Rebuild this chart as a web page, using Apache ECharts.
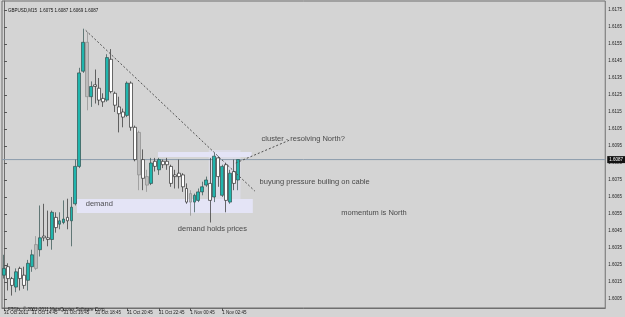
<!DOCTYPE html>
<html>
<head>
<meta charset="utf-8">
<script src="https://cdn.jsdelivr.net/npm/echarts@6/dist/echarts.min.js"></script>
<style>
html, body { margin: 0; padding: 0; background: #d4d4d4; }
#chart { width: 625px; height: 317px; }
</style>
</head>
<body>
<div id="chart"></div>
<script>
// GBPUSD M15 bars, first one 31 Oct 13:00   [open, close, low, high]
var bars = [
    [1.6019, 1.6023, 1.6017, 1.6031],
    [1.6024, 1.6017, 1.6010, 1.6026],
    [1.6017, 1.6013, 1.6007, 1.6018],
    [1.6012, 1.6021, 1.6009, 1.6023],
    [1.6023, 1.6017, 1.6010, 1.6024],
    [1.6019, 1.6013, 1.6011, 1.6024],
    [1.6016, 1.6026, 1.6010, 1.6028],
    [1.6024, 1.6031, 1.6021, 1.6034],
    [1.6037, 1.6023, 1.6022, 1.6042],
    [1.6034, 1.6041, 1.6030, 1.6060],
    [1.6042, 1.6041, 1.6039, 1.6061],
    [1.6041, 1.6040, 1.6036, 1.6057],
    [1.6040, 1.6056, 1.6034, 1.6057],
    [1.6053, 1.6047, 1.6044, 1.6056],
    [1.6049, 1.6051, 1.6046, 1.6056],
    [1.6050, 1.6052, 1.6049, 1.6063],
    [1.6053, 1.6051, 1.6046, 1.6064],
    [1.6051, 1.6059, 1.6036, 1.6065],
    [1.6061, 1.6083, 1.6060, 1.6087],
    [1.6083, 1.6138, 1.6082, 1.6141],
    [1.6139, 1.6156, 1.6138, 1.6164],
    [1.6156, 1.6124, 1.6116, 1.6162],
    [1.6124, 1.6130, 1.6118, 1.6133],
    [1.6131, 1.6130, 1.6120, 1.6140],
    [1.6129, 1.6122, 1.6119, 1.6135],
    [1.6123, 1.6121, 1.6118, 1.6126],
    [1.6122, 1.6147, 1.6121, 1.6149],
    [1.6146, 1.6127, 1.6126, 1.6152],
    [1.6126, 1.6119, 1.6115, 1.6127],
    [1.6118, 1.6114, 1.6103, 1.6124],
    [1.6115, 1.6112, 1.6106, 1.6117],
    [1.6113, 1.6132, 1.6112, 1.6133],
    [1.6132, 1.6106, 1.6104, 1.6133],
    [1.6106, 1.6087, 1.6086, 1.6107],
    [1.6103, 1.6078, 1.6069, 1.6104],
    [1.6087, 1.6076, 1.6069, 1.6093],
    [1.6077, 1.6072, 1.6068, 1.6081],
    [1.6073, 1.6085, 1.6072, 1.6088],
    [1.6086, 1.6083, 1.6080, 1.6088],
    [1.6081, 1.6087, 1.6078, 1.6088],
    [1.6086, 1.6084, 1.6082, 1.6087],
    [1.6086, 1.6084, 1.6081, 1.6088],
    [1.6083, 1.6073, 1.6071, 1.6084],
    [1.6078, 1.6077, 1.6070, 1.6081],
    [1.6079, 1.6077, 1.6070, 1.6087],
    [1.6078, 1.6071, 1.6068, 1.6079],
    [1.6070, 1.6062, 1.6061, 1.6073],
    [1.6067, 1.6062, 1.6054, 1.6069],
    [1.6062, 1.6066, 1.6056, 1.6067],
    [1.6063, 1.6068, 1.6062, 1.6070],
    [1.6068, 1.6071, 1.6066, 1.6074],
    [1.6072, 1.6075, 1.6071, 1.6077],
    [1.6073, 1.6063, 1.6050, 1.6088],
    [1.6065, 1.6089, 1.6062, 1.6091],
    [1.6088, 1.6077, 1.6071, 1.6089],
    [1.6066, 1.6083, 1.6065, 1.6084],
    [1.6084, 1.6063, 1.6056, 1.6085],
    [1.6062, 1.6079, 1.6061, 1.6081],
    [1.6080, 1.6073, 1.6069, 1.6087],
    [1.6075, 1.6087, 1.6069, 1.6087]
];
// bars that show up grey on the screenshot
var greyBars = [8, 21, 34, 36, 47];

var slotCount = 152;
var timeTickIdx = [0, 7, 15, 23, 31, 39, 47, 55];
var timeTickText = ['31 Oct 2011', '31 Oct 14:45', '31 Oct 16:45', '31 Oct 18:45',
    '31 Oct 20:45', '31 Oct 22:45', '1 Nov 00:45', '1 Nov 02:45'];
var priceTicks = [1.6005, 1.6015, 1.6025, 1.6035, 1.6045, 1.6055, 1.6065, 1.6075, 1.6085,
    1.6095, 1.6105, 1.6115, 1.6125, 1.6135, 1.6145, 1.6155, 1.6165, 1.6175];
var lastPrice = 1.6087;
var header = 'GBPUSD,M15  1.6075 1.6087 1.6069 1.6087';
var footer = 'FTGfx, \u00a9 2001-2011 MetaQuotes Software Corp.';

// objects drawn on the chart, anchored at (bar index, price)
var trendDown = [[20.6, 1.6163], [63.2, 1.60685]];
var trendCluster = [[58.4, 1.6085], [72.0, 1.60985]];
var bandBox = [[38.8, 1.60915], [62.4, 1.60885]];
var clusterBox = [[51.6, 1.60926], [59.6, 1.60597]];
var demandBox = [[18.4, 1.60638], [62.7, 1.60556]];
var noteText = ['cluster - resolving North?', 'buyung pressure builing on cable',
    'momentum is North', 'demand holds prices', 'demand'];
var notePos = [[64.9, 1.60991], [64.4, 1.60738], [85.0, 1.60556], [43.8, 1.60462], [20.6, 1.60609]];

var chart = echarts.init(document.getElementById('chart'));

var cats = [];
for (var i = 0; i < slotCount; i++) cats.push(i);

var candleData = bars.map(function (b, i) {
    if (greyBars.indexOf(i) >= 0) {
        return { value: b, itemStyle: { color: '#bcbcbc', color0: '#bcbcbc', borderColor: '#8c8c8c', borderColor0: '#8c8c8c' } };
    }
    return b;
});

var notesData = noteText.map(function (t, i) {
    return { name: t, value: notePos[i] };
});

function isTimeTick(idx) { return timeTickIdx.indexOf(idx) >= 0; }

chart.setOption({
    animation: false,
    backgroundColor: '#d4d4d4',
    title: [
        { text: header, left: 3, top: 3, textStyle: { fontSize: 4.5, color: '#111', fontWeight: 'normal', fontFamily: 'Liberation Sans' } },
        { text: footer, left: 3, top: 302, textStyle: { fontSize: 4.5, color: '#222', fontWeight: 'normal', fontFamily: 'Liberation Sans' } }
    ],
    grid: {
        left: 2, top: 1, width: 604, height: 307,
        show: true, borderColor: '#6f6f6f', borderWidth: 1, backgroundColor: 'transparent'
    },
    xAxis: [
        {
            type: 'category',
            data: cats,
            boundaryGap: true,
            axisLine: { lineStyle: { color: '#6f6f6f' } },
            axisTick: { show: true, length: 3, alignWithLabel: true, interval: function (idx) { return isTimeTick(idx); }, lineStyle: { color: '#555' } },
            axisLabel: {
                interval: function (idx) { return isTimeTick(idx); },
                formatter: function (v, idx) { var k = timeTickIdx.indexOf(idx); return k >= 0 ? timeTickText[k] : ''; },
                align: 'left',
                margin: 2,
                fontSize: 4.5,
                color: '#222',
                fontFamily: 'Liberation Sans'
            },
            splitLine: { show: false }
        },
        { type: 'value', min: -0.5, max: slotCount - 0.5, show: false }
    ],
    yAxis: {
        type: 'value',
        position: 'right',
        min: 1.59997,
        max: 1.61803,
        axisLine: { show: true, lineStyle: { color: '#6f6f6f' } },
        axisTick: { show: true, length: 3, customValues: priceTicks, lineStyle: { color: '#555' } },
        axisLabel: {
            customValues: priceTicks,
            formatter: function (v) { return v.toFixed(4); },
            margin: 3,
            fontSize: 4.5,
            color: '#222',
            fontFamily: 'Liberation Sans'
        },
        splitLine: { show: false }
    },
    series: [
        {
            type: 'line',
            xAxisIndex: 1,
            data: [],
            silent: true,
            z: 1,
            markArea: {
                silent: true,
                data: [
                    [{ coord: clusterBox[0], itemStyle: { color: '#dcdce6' } }, { coord: clusterBox[1] }],
                    [{ coord: demandBox[0], itemStyle: { color: '#e4e4f6' } }, { coord: demandBox[1] }],
                    [{ coord: bandBox[0], itemStyle: { color: '#e4e4f6' } }, { coord: bandBox[1] }]
                ]
            }
        },
        {
            // bid line across the whole window, price tag on the axis
            type: 'line',
            xAxisIndex: 1,
            data: [[-0.5, lastPrice], [slotCount - 0.5, lastPrice]],
            symbol: 'none',
            silent: true,
            z: 2,
            lineStyle: { color: '#8b9bac', width: 1 },
            endLabel: {
                show: true,
                formatter: lastPrice.toFixed(4),
                backgroundColor: '#111',
                color: '#fff',
                fontSize: 4.5,
                padding: [1, 2],
                distance: 2,
                fontFamily: 'Liberation Sans'
            }
        },
        {
            type: 'candlestick',
            data: candleData,
            barWidth: 3.4,
            z: 3,
            silent: true,
            itemStyle: {
                color: '#20b5ad',
                color0: '#ffffff',
                borderColor: '#2f4f4d',
                borderColor0: '#2e2e2e',
                borderWidth: 0.7
            }
        },
        {
            type: 'line',
            xAxisIndex: 1,
            data: trendDown,
            symbol: 'none',
            silent: true,
            z: 4,
            lineStyle: { color: '#505050', width: 1, type: [2, 2] }
        },
        {
            type: 'line',
            xAxisIndex: 1,
            data: trendCluster,
            symbol: 'none',
            silent: true,
            z: 4,
            lineStyle: { color: '#505050', width: 1, type: [2, 2] }
        },
        {
            type: 'scatter',
            xAxisIndex: 1,
            data: notesData,
            symbolSize: 0,
            silent: true,
            z: 5,
            label: {
                show: true,
                position: 'right',
                distance: 0,
                formatter: '{b}',
                fontSize: 7.5,
                color: '#262626',
                fontFamily: 'Liberation Sans'
            }
        }
    ]
});
</script>
</body>
</html>
